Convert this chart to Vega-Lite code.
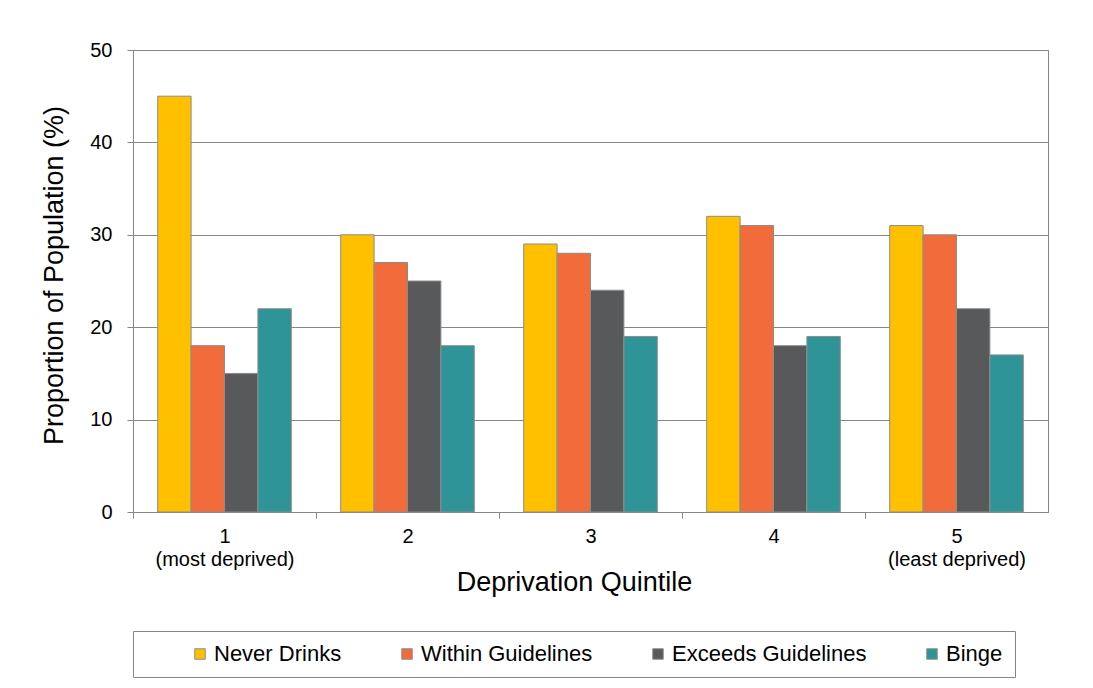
{
  "$schema": "https://vega.github.io/schema/vega-lite/v6.json",
  "width": 915,
  "height": 462,
  "autosize": "none",
  "padding": {"left": 133, "top": 50, "right": 45, "bottom": 176},
  "background": "white",
  "data": {
    "values": [
      {"quintile": "1", "category": "Never Drinks", "value": 45},
      {"quintile": "1", "category": "Within Guidelines", "value": 18},
      {"quintile": "1", "category": "Exceeds Guidelines", "value": 15},
      {"quintile": "1", "category": "Binge", "value": 22},
      {"quintile": "2", "category": "Never Drinks", "value": 30},
      {"quintile": "2", "category": "Within Guidelines", "value": 27},
      {"quintile": "2", "category": "Exceeds Guidelines", "value": 25},
      {"quintile": "2", "category": "Binge", "value": 18},
      {"quintile": "3", "category": "Never Drinks", "value": 29},
      {"quintile": "3", "category": "Within Guidelines", "value": 28},
      {"quintile": "3", "category": "Exceeds Guidelines", "value": 24},
      {"quintile": "3", "category": "Binge", "value": 19},
      {"quintile": "4", "category": "Never Drinks", "value": 32},
      {"quintile": "4", "category": "Within Guidelines", "value": 31},
      {"quintile": "4", "category": "Exceeds Guidelines", "value": 18},
      {"quintile": "4", "category": "Binge", "value": 19},
      {"quintile": "5", "category": "Never Drinks", "value": 31},
      {"quintile": "5", "category": "Within Guidelines", "value": 30},
      {"quintile": "5", "category": "Exceeds Guidelines", "value": 22},
      {"quintile": "5", "category": "Binge", "value": 17}
    ]
  },
  "mark": {"type": "bar", "stroke": "#8c8c8c", "strokeWidth": 1},
  "encoding": {
    "x": {
      "field": "quintile",
      "type": "nominal",
      "title": "Deprivation Quintile",
      "scale": {"paddingInner": 0.27, "paddingOuter": 0.135},
      "axis": {
        "labelExpr": "datum.value == '1' ? ['1', '(most deprived)'] : datum.value == '5' ? ['5', '(least deprived)'] : datum.value",
        "labelAngle": 0,
        "labelFontSize": 20,
        "labelPadding": 8,
        "labelLineHeight": 23,
        "labelBaseline": "top",
        "tickOffset": -91.5,
        "labelOffset": 91.5,
        "ticks": true,
        "tickSize": 6,
        "tickWidth": 1,
        "tickColor": "#868686",
        "domainColor": "#868686",
        "grid": false,
        "titleFontSize": 27,
        "titleX": 441,
        "titleAlign": "center",
        "titleY": 78,
        "titleBaseline": "alphabetic"
      }
    },
    "xOffset": {
      "field": "category",
      "type": "nominal",
      "sort": ["Never Drinks", "Within Guidelines", "Exceeds Guidelines", "Binge"],
      "scale": {"paddingInner": 0, "paddingOuter": 0}
    },
    "y": {
      "field": "value",
      "type": "quantitative",
      "title": "Proportion of Population  (%)",
      "scale": {"domain": [0, 50], "nice": false},
      "axis": {
        "values": [0, 10, 20, 30, 40, 50],
        "labelFontSize": 20,
        "labelPadding": 15,
        "tickSize": 6,
        "tickColor": "#868686",
        "domainColor": "#868686",
        "gridColor": "#868686",
        "titleFontSize": 27,
        "titleAngle": -90,
        "titleAlign": "center",
        "titleBaseline": "alphabetic",
        "titleX": -71,
        "titleY": 225
      }
    },
    "color": {
      "field": "category",
      "type": "nominal",
      "scale": {
        "domain": ["Never Drinks", "Within Guidelines", "Exceeds Guidelines", "Binge"],
        "range": ["#FFC000", "#F26B3A", "#58595B", "#2E9497"]
      },
      "legend": {
        "orient": "none",
        "legendX": 0,
        "legendY": 581,
        "direction": "horizontal",
        "columns": 4,
        "title": null,
        "labelFontSize": 22,
        "labelLimit": 400,
        "symbolType": "square",
        "symbolSize": 110,
        "symbolStrokeColor": "#8c8c8c",
        "symbolStrokeWidth": 1,
        "strokeColor": "#868686",
        "padding": 12,
        "columnPadding": 10,
        "symbolOffset": 44,
        "labelOffset": 3
      }
    }
  },
  "config": {
    "font": "Liberation Sans",
    "view": {"stroke": "#868686"},
    "axis": {
      "labelColor": "#000000",
      "titleColor": "#000000",
      "titleFontWeight": "normal",
      "labelFont": "Liberation Sans",
      "titleFont": "Liberation Sans"
    },
    "legend": {"labelColor": "#000000", "labelFont": "Liberation Sans"}
  }
}
